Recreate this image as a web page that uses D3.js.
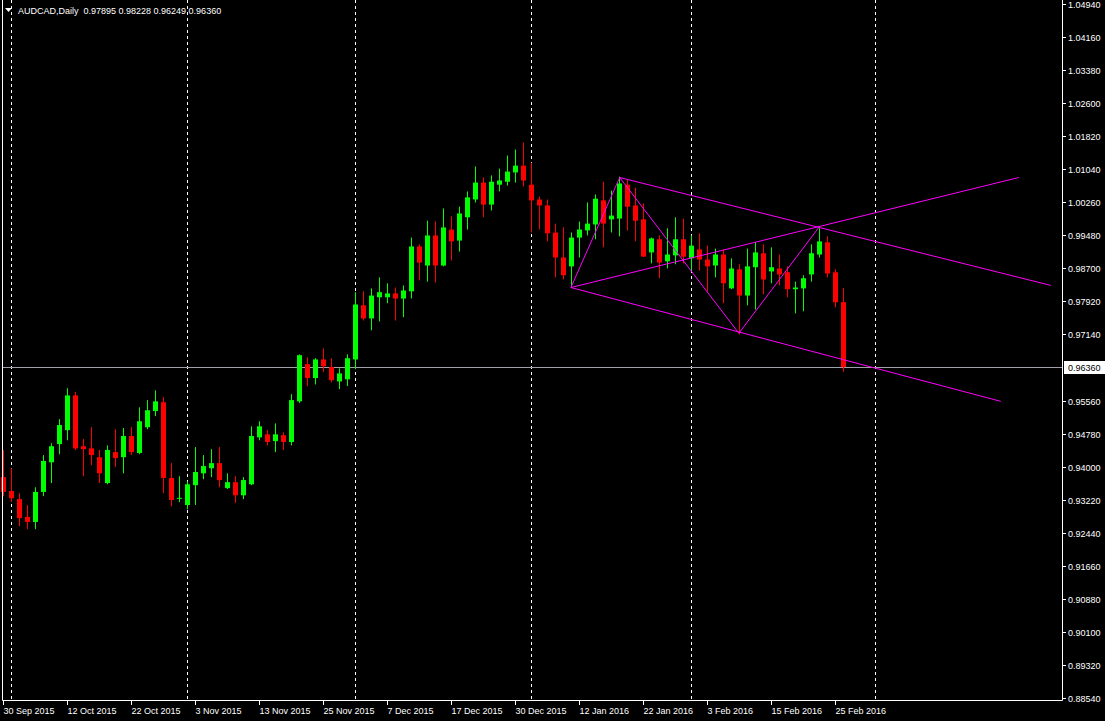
<!DOCTYPE html>
<html><head><meta charset="utf-8">
<script src="https://cdn.jsdelivr.net/npm/d3@7"></script>
<style>body{margin:0;background:#000;overflow:hidden}svg{display:block}</style>
</head><body><svg id="c" width="1105" height="721"></svg>
<script>
// OHLC per daily bar, starting 30 Sep 2015
const opens=[0.9376,0.9343,0.9324,0.9282,0.9270,0.9341,0.9411,0.9454,0.9487,0.9569,0.9449,0.9444,0.9423,0.9362,0.9435,0.9423,0.9473,0.9433,0.9494,0.9532,0.9553,0.9374,0.9325,0.9310,0.9357,0.9385,0.9397,0.9409,0.9350,0.9364,0.9333,0.9359,0.9470,0.9477,0.9461,0.9475,0.9459,0.9555,0.9643,0.9610,0.9654,0.9636,0.9602,0.9607,0.9654,0.9782,0.9751,0.9801,0.9801,0.9810,0.9798,0.9815,0.9921,0.9876,0.9947,0.9876,0.9961,0.9935,0.9990,1.0032,1.0072,1.0020,1.0067,1.0074,1.0096,1.0112,1.0067,1.0032,1.0018,0.9954,0.9895,0.9874,0.9942,0.9959,0.9973,1.0030,0.9985,0.9987,1.0067,1.0018,0.9985,0.9907,0.9938,0.9886,0.9900,0.9938,0.9893,0.9914,0.9890,0.9876,0.9902,0.9822,0.9867,0.9805,0.9872,0.9905,0.9862,0.9869,0.9860,0.9820,0.9822,0.9855,0.9902,0.9931,0.9860,0.97895];
const highs=[0.9440,0.9397,0.9338,0.9310,0.9352,0.9428,0.9456,0.9513,0.9586,0.9577,0.9466,0.9494,0.9440,0.9451,0.9489,0.9492,0.9494,0.9541,0.9558,0.9581,0.9565,0.9409,0.9378,0.9366,0.9447,0.9428,0.9442,0.9447,0.9385,0.9378,0.9376,0.9496,0.9508,0.9487,0.9503,0.9482,0.9572,0.9666,0.9659,0.9657,0.9680,0.9657,0.9633,0.9666,0.9813,0.9815,0.9822,0.9848,0.9834,0.9824,0.9829,0.9942,0.9926,0.9982,0.9980,1.0011,0.9992,1.0015,1.0051,1.0110,1.0084,1.0089,1.0105,1.0136,1.0150,1.0167,1.0119,1.0039,1.0032,0.9975,0.9966,0.9954,0.9980,1.0025,1.0044,1.0074,1.0053,1.0086,1.0079,1.0060,1.0023,0.9942,0.9947,0.9964,0.9990,0.9987,0.9947,0.9952,0.9923,0.9916,0.9914,0.9893,0.9879,0.9916,0.9931,0.9926,0.9919,0.9902,0.9874,0.9838,0.9853,0.9926,0.9964,0.9945,0.9867,0.98228];
const lows=[0.9331,0.9317,0.9260,0.9253,0.9253,0.9331,0.9362,0.9430,0.9463,0.9440,0.9378,0.9404,0.9362,0.9359,0.9400,0.9385,0.9428,0.9430,0.9489,0.9520,0.9338,0.9307,0.9317,0.9300,0.9310,0.9371,0.9376,0.9352,0.9348,0.9315,0.9324,0.9357,0.9463,0.9451,0.9435,0.9440,0.9451,0.9551,0.9591,0.9595,0.9624,0.9600,0.9584,0.9591,0.9631,0.9746,0.9723,0.9744,0.9787,0.9746,0.9754,0.9798,0.9841,0.9838,0.9836,0.9874,0.9888,0.9909,0.9961,1.0025,0.9990,1.0006,1.0051,1.0065,1.0072,1.0063,0.9954,0.9961,0.9933,0.9848,0.9843,0.9824,0.9895,0.9947,0.9938,0.9919,0.9954,0.9945,0.9959,0.9933,0.9897,0.9881,0.9846,0.9869,0.9879,0.9881,0.9864,0.9864,0.9815,0.9848,0.9787,0.9820,0.9713,0.9782,0.9772,0.9808,0.9834,0.9829,0.9801,0.9763,0.9768,0.9838,0.9895,0.9848,0.9777,0.96249];
const closes=[0.9341,0.9326,0.9279,0.9270,0.9341,0.9414,0.9449,0.9499,0.9569,0.9444,0.9442,0.9428,0.9385,0.9440,0.9421,0.9473,0.9435,0.9508,0.9534,0.9555,0.9374,0.9322,0.9327,0.9359,0.9388,0.9402,0.9409,0.9369,0.9364,0.9333,0.9369,0.9473,0.9496,0.9459,0.9477,0.9459,0.9558,0.9664,0.9610,0.9654,0.9638,0.9605,0.9621,0.9657,0.9784,0.9751,0.9805,0.9813,0.9810,0.9798,0.9817,0.9921,0.9883,0.9947,0.9876,0.9966,0.9933,0.9999,1.0037,1.0072,1.0020,1.0074,1.0077,1.0098,1.0112,1.0077,1.0030,1.0018,0.9952,0.9895,0.9853,0.9942,0.9961,0.9975,1.0034,0.9975,0.9994,1.0070,1.0015,0.9982,0.9897,0.9940,0.9883,0.9902,0.9938,0.9897,0.9923,0.9890,0.9874,0.9902,0.9834,0.9869,0.9805,0.9874,0.9907,0.9843,0.9872,0.9855,0.9820,0.9824,0.9846,0.9905,0.9933,0.9857,0.9789,0.96360];
const dateLabels=["30 Sep 2015","12 Oct 2015","22 Oct 2015","3 Nov 2015","13 Nov 2015","25 Nov 2015","7 Dec 2015","17 Dec 2015","30 Dec 2015","12 Jan 2016","22 Jan 2016","3 Feb 2016","15 Feb 2016","25 Feb 2016"];
const priceTicks=[1.04940,1.04160,1.03380,1.02600,1.01820,1.01040,1.00260,0.99480,0.98700,0.97920,0.97140,0.95560,0.94780,0.94000,0.93220,0.92440,0.91660,0.90880,0.90100,0.89320,0.88540];
const separatorBars=[1,23,44,66,86,109];
const lastPrice=0.96360;
// magenta drawing segments: [barA, priceA, barB, priceB]
const segments=[
 [71,0.9824,77.1,1.0084],[77.1,1.0084,92,0.9716],[92,0.9716,102,0.9966],
 [77.1,1.0084,131,0.9829],[71,0.9824,124.75,0.9555],[71,0.9824,127,1.0084]];

const svg=d3.select("#c");
const L=2,R=1062,T=0,B=700;
const x=d3.scaleLinear().domain([0,132.4]).range([3,1062]);
const y=d3.scaleLinear().domain([0.88540,1.04940]).range([698,4]);
const font="'Liberation Sans', Arial, sans-serif";
const fs=9;
const g=svg.append("g");
g.append("g").selectAll("line").data(separatorBars).join("line")
 .attr("x1",d=>Math.round(x(d))+0.5).attr("x2",d=>Math.round(x(d))+0.5).attr("y1",T).attr("y2",B)
 .attr("stroke","#fff").attr("stroke-dasharray","3,3");
g.append("line").attr("x1",L).attr("x2",R).attr("y1",Math.round(y(lastPrice))+0.5).attr("y2",Math.round(y(lastPrice))+0.5).attr("stroke","#a0a0a8");
const idx=d3.range(opens.length);
const col=i=>closes[i]>=opens[i]?"#00ff00":"#ff0000";
g.append("g").selectAll("line").data(idx).join("line")
 .attr("x1",i=>Math.round(x(i))+0.5).attr("x2",i=>Math.round(x(i))+0.5)
 .attr("y1",i=>y(highs[i])).attr("y2",i=>y(lows[i])).attr("stroke",col);
g.append("g").selectAll("rect").data(idx).join("rect")
 .attr("x",i=>Math.round(x(i))-2).attr("width",5)
 .attr("y",i=>y(Math.max(opens[i],closes[i])))
 .attr("height",i=>Math.max(1,Math.abs(y(opens[i])-y(closes[i])))).attr("fill",col);
g.append("g").selectAll("line").data(segments).join("line")
 .attr("x1",d=>x(d[0])).attr("y1",d=>y(d[1])).attr("x2",d=>x(d[2])).attr("y2",d=>y(d[3]))
 .attr("stroke","#ff00ff").attr("stroke-width",1);
svg.append("path").attr("d",`M${L+0.5},0V${B+0.5}H${R+0.5}V0`).attr("fill","none").attr("stroke","#fff");
const pa=svg.append("g");
priceTicks.forEach(p=>{const yy=Math.round(y(p))+0.5;
 pa.append("line").attr("x1",R).attr("x2",R+4).attr("y1",yy).attr("y2",yy).attr("stroke","#fff");
 pa.append("text").attr("x",1068).attr("y",yy+3.5).attr("fill","#fff").attr("font-family",font).attr("font-size",fs).text(p.toFixed(5));});
const ly=Math.round(y(lastPrice));
pa.append("rect").attr("x",1064).attr("y",ly-6).attr("width",41).attr("height",13).attr("fill","#fff");
pa.append("text").attr("x",1068).attr("y",ly+3.5).attr("fill","#000").attr("font-family",font).attr("font-size",fs).text(lastPrice.toFixed(5));
const da=svg.append("g");
dateLabels.forEach((t,k)=>{const xx=Math.round(x(k*8))+0.5;
 da.append("line").attr("x1",xx).attr("x2",xx).attr("y1",B).attr("y2",B+5).attr("stroke","#fff");
 da.append("text").attr("x",xx).attr("y",714).attr("fill","#fff").attr("font-family",font).attr("font-size",fs).text(t);});
svg.append("path").attr("d","M5,8h7l-3.5,4z").attr("fill","#fff");
svg.append("text").attr("x",18).attr("y",14).attr("fill","#fff").attr("font-family",font).attr("font-size",fs)
 .attr("xml:space","preserve")
 .text(`AUDCAD,Daily  ${opens[105].toFixed(5)} ${highs[105].toFixed(5)} ${lows[105].toFixed(5)} ${closes[105].toFixed(5)}`);
</script></body></html>
